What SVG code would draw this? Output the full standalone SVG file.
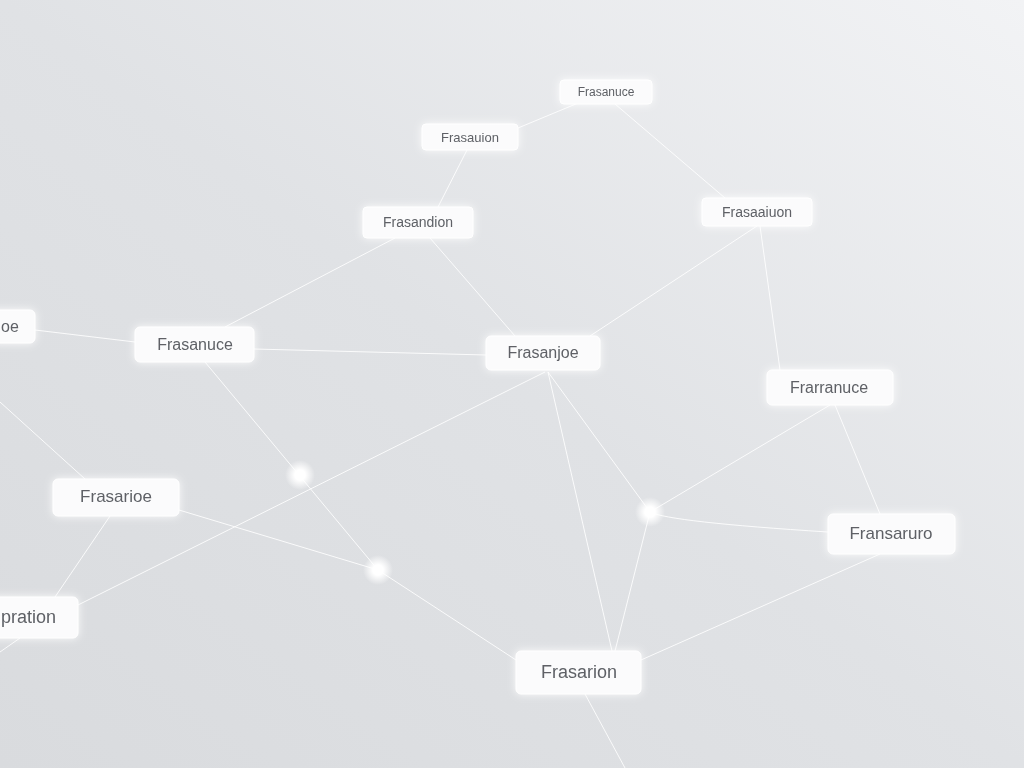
<svg xmlns="http://www.w3.org/2000/svg" width="1024" height="768" viewBox="0 0 1024 768">
<defs>
<linearGradient id="bg" x1="0" y1="1" x2="1" y2="0">
<stop offset="0" stop-color="#d9dbde"/>
<stop offset="0.5" stop-color="#e0e2e5"/>
<stop offset="1" stop-color="#f2f3f5"/>
</linearGradient>
<radialGradient id="dotg" cx="0.5" cy="0.5" r="0.5">
<stop offset="0" stop-color="#ffffff"/>
<stop offset="0.35" stop-color="#ffffff"/>
<stop offset="1" stop-color="#ffffff" stop-opacity="0"/>
</radialGradient>
<filter id="glow" x="-30%" y="-60%" width="160%" height="220%">
<feGaussianBlur in="SourceAlpha" stdDeviation="5"/>
<feFlood flood-color="#ffffff" flood-opacity="0.9"/>
<feComposite operator="in" in2="SourceAlpha"/>
<feGaussianBlur stdDeviation="4"/>
<feMerge><feMergeNode/><feMergeNode in="SourceGraphic"/></feMerge>
</filter>
</defs>
<style>
.box{fill:#fbfbfc;stroke:#ffffff;stroke-width:1}
.lbl{font-family:"Liberation Sans",Arial,sans-serif;fill:#5e6166;text-anchor:middle;dominant-baseline:central}
.e{stroke:#ffffff;stroke-width:1;fill:none;opacity:0.85}
</style>
<rect width="1024" height="768" fill="url(#bg)"/>
<g id="connectors">
<line class="e" x1="583" y1="101" x2="518" y2="128"/>
<line class="e" x1="615" y1="104" x2="725" y2="198"/>
<line class="e" x1="467" y1="150" x2="438" y2="207"/>
<line class="e" x1="395" y1="238" x2="225" y2="327"/>
<line class="e" x1="430" y1="238" x2="515" y2="336"/>
<line class="e" x1="757" y1="226" x2="590" y2="336"/>
<line class="e" x1="760" y1="226" x2="780" y2="370"/>
<line class="e" x1="35" y1="330" x2="135" y2="342"/>
<line class="e" x1="254" y1="349" x2="486" y2="355"/>
<line class="e" x1="205" y1="362" x2="378" y2="570"/>
<line class="e" x1="545" y1="372" x2="78" y2="605"/>
<line class="e" x1="548" y1="372" x2="612" y2="651"/>
<line class="e" x1="548" y1="372" x2="650" y2="512"/>
<line class="e" x1="830" y1="405" x2="650" y2="512"/>
<line class="e" x1="835" y1="405" x2="880" y2="514"/>
<path class="e" d="M650 512 Q670 522 828 532"/>
<line class="e" x1="650" y1="512" x2="615" y2="651"/>
<line class="e" x1="880" y1="554" x2="641" y2="660"/>
<line class="e" x1="179" y1="510" x2="378" y2="570"/>
<line class="e" x1="378" y1="570" x2="516" y2="660"/>
<line class="e" x1="110" y1="516" x2="55" y2="597"/>
<line class="e" x1="0" y1="402" x2="85" y2="479"/>
<line class="e" x1="20" y1="638" x2="0" y2="652"/>
<line class="e" x1="585" y1="694" x2="625" y2="768"/>
</g>
<g id="dot1"><circle cx="300" cy="475" r="15" fill="url(#dotg)"/></g>
<g id="dot2"><circle cx="378" cy="570" r="15" fill="url(#dotg)"/></g>
<g id="dot3"><circle cx="650" cy="512" r="15" fill="url(#dotg)"/></g>
<g id="n1" filter="url(#glow)"><rect class="box" x="560" y="80" width="92" height="24" rx="4"/><text class="lbl" x="606" y="92" font-size="12">Frasanuce</text></g>
<g id="n2" filter="url(#glow)"><rect class="box" x="422" y="124" width="96" height="26" rx="4"/><text class="lbl" x="470" y="137" font-size="13">Frasauion</text></g>
<g id="n3" filter="url(#glow)"><rect class="box" x="363" y="207" width="110" height="31" rx="4"/><text class="lbl" x="418" y="222" font-size="14">Frasandion</text></g>
<g id="n4" filter="url(#glow)"><rect class="box" x="702" y="198" width="110" height="28" rx="4"/><text class="lbl" x="757" y="212" font-size="14">Frasaaiuon</text></g>
<g id="n5" filter="url(#glow)"><rect class="box" x="-60" y="310" width="95" height="33" rx="5"/><text class="lbl" x="1" y="326" font-size="16" text-anchor="start" style="text-anchor:start">oe</text></g>
<g id="n6" filter="url(#glow)"><rect class="box" x="135" y="327" width="119" height="35" rx="5"/><text class="lbl" x="195" y="344" font-size="16">Frasanuce</text></g>
<g id="n7" filter="url(#glow)"><rect class="box" x="486" y="336" width="114" height="34" rx="5"/><text class="lbl" x="543" y="352" font-size="16">Frasanjoe</text></g>
<g id="n8" filter="url(#glow)"><rect class="box" x="767" y="370" width="126" height="35" rx="5"/><text class="lbl" x="829" y="387" font-size="16">Frarranuce</text></g>
<g id="n9" filter="url(#glow)"><rect class="box" x="53" y="479" width="126" height="37" rx="5"/><text class="lbl" x="116" y="496" font-size="17">Frasarioe</text></g>
<g id="n10" filter="url(#glow)"><rect class="box" x="828" y="514" width="127" height="40" rx="5"/><text class="lbl" x="891" y="533" font-size="17">Fransaruro</text></g>
<g id="n11" filter="url(#glow)"><rect class="box" x="-30" y="597" width="108" height="41" rx="5"/><text class="lbl" x="1" y="617" font-size="18" style="text-anchor:start">pration</text></g>
<g id="n12" filter="url(#glow)"><rect class="box" x="516" y="651" width="125" height="43" rx="5"/><text class="lbl" x="579" y="672" font-size="18">Frasarion</text></g>
</svg>
